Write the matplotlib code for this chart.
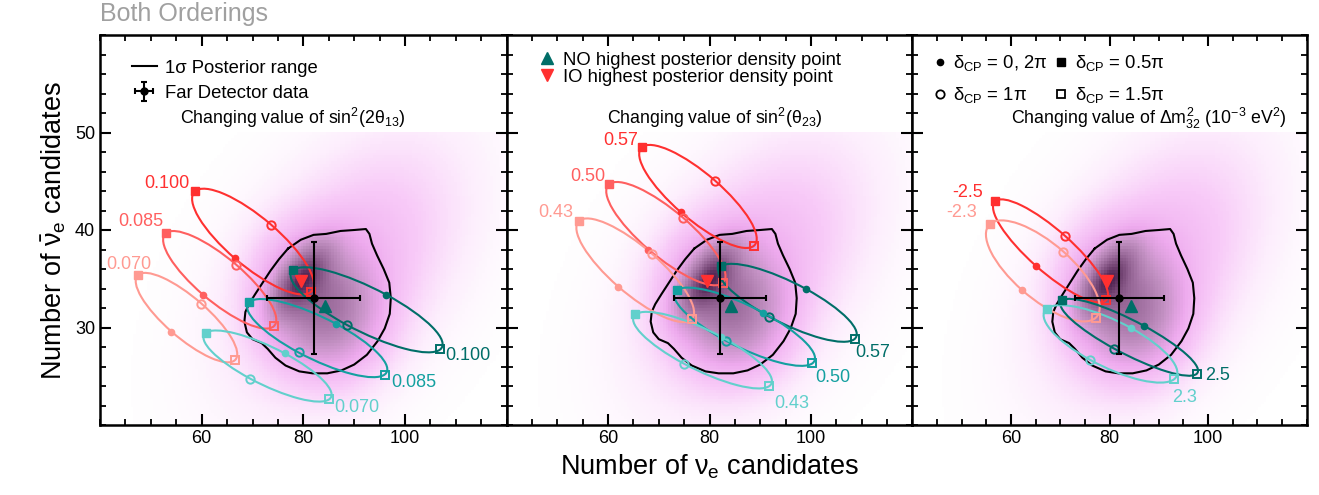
import numpy as np
import matplotlib
matplotlib.use("Agg")
import matplotlib.pyplot as plt
from matplotlib.patches import Circle
from matplotlib.transforms import Affine2D
from matplotlib.colors import LinearSegmentedColormap
from matplotlib.lines import Line2D
from matplotlib.ticker import MultipleLocator

plt.rcParams.update({
    "font.family": ["Liberation Sans", "DejaVu Sans"],
    "mathtext.fontset": "custom",
    "mathtext.rm": "Liberation Sans",
    "mathtext.it": "Liberation Sans",
    "mathtext.bf": "Liberation Sans:bold",
    "mathtext.sf": "Liberation Sans",
})

# ---------------- data ----------------
# Far Detector observation
fd_nue, fd_nuebar = 82, 33
fd_nue_err, fd_nuebar_err = 9.06, 5.74
# highest posterior density points
no_hpd = (84.3, 32.2)
io_hpd = (79.5, 34.8)

# 1 sigma posterior contour (nu_e, nubar_e)
contour_x = [77.0, 79.5, 82.0, 84.5, 87.3, 90.0, 92.3, 93.0, 93.5, 94.5, 95.8, 96.9,
             97.2, 97.0, 96.0, 94.6, 92.5, 90.0, 87.5, 84.7, 81.8, 79.2, 76.5, 74.5,
             73.0, 71.8, 70.0, 68.9, 68.4, 68.6, 69.3, 70.5, 72.0, 73.5, 75.2, 77.0]
contour_y = [38.1, 39.0, 39.5, 39.6, 39.9, 40.0, 40.1, 39.6, 38.6, 37.4, 36.0, 34.6,
             33.0, 31.4, 29.9, 28.6, 27.2, 26.2, 25.6, 25.3, 25.3, 25.5, 26.1, 26.9,
             27.8, 28.4, 28.8, 29.5, 30.6, 31.6, 32.4, 33.4, 34.6, 35.8, 37.0, 38.1]

# background posterior density model: (weight, mean_x, mean_y, sigma_x, sigma_y, rho)
density_components = [
    (0.55, 79.8, 35.0, 3.8, 2.4, 0.65),
    (0.60, 83.5, 32.3, 7.5, 4.4, -0.15),
    (0.30, 89.0, 36.0, 15.0, 9.0, 0.45),
]

# marker positions per curve, order: dCP = 0, 0.5pi, 1pi, 1.5pi
th13_values = ["0.100", "0.085", "0.070", "0.100", "0.085", "0.070"]
th13_x = [[66.6, 58.6, 73.7, 81.5], [60.3, 52.9, 66.8, 74.2], [54.05, 47.5, 59.9, 66.6],
          [96.3, 78.0, 88.55, 106.9], [86.4, 69.4, 79.1, 96.0], [76.3, 60.8, 69.6, 85.1]]
th13_y = [[37.08, 43.95, 40.55, 33.67], [33.34, 39.66, 36.43, 30.14], [29.56, 35.38, 32.45, 26.67],
          [33.34, 35.92, 30.24, 27.76], [30.41, 32.62, 27.45, 25.17], [27.35, 29.46, 24.73, 22.65]]

th23_values = ["0.57", "0.50", "0.43", "0.57", "0.50", "0.43"]
th23_x = [[74.4, 66.6, 81.1, 88.8], [67.9, 60.2, 74.8, 82.7], [61.9, 54.3, 68.7, 76.5],
          [99.0, 82.3, 91.7, 108.6], [90.6, 73.5, 83.3, 100.3], [82.3, 65.4, 75.0, 91.8]]
th23_y = [[41.81, 48.47, 45.07, 38.41], [38.0, 44.69, 41.22, 34.59], [34.18, 40.96, 37.49, 30.86],
          [33.92, 36.3, 31.09, 28.82], [31.53, 33.82, 28.64, 26.33], [29.05, 31.37, 26.27, 24.02]]

dm32_values = ["-2.5", "-2.3", "2.5", "2.3"]
dm32_x = [[65.0, 56.8, 71.0, 79.35], [62.2, 55.8, 70.6, 77.3],
          [86.9, 70.4, 81.0, 97.7], [84.4, 67.3, 76.0, 93.1]]
dm32_y = [[36.33, 42.93, 39.36, 32.8], [33.82, 40.61, 37.76, 31.02],
          [30.14, 32.8, 27.76, 25.28], [29.94, 31.94, 26.7, 24.69]]

# ---------------- styles ----------------
RED_D, RED_M, RED_L = "#ff3030", "#ff5f5f", "#ff9a92"
TEA_D, TEA_M, TEA_L = "#006e68", "#14a0a0", "#62d0cc"
th_colors = [RED_D, RED_M, RED_L, TEA_D, TEA_M, TEA_L]
dm_colors = [RED_D, RED_L, TEA_D, TEA_L]

# label placement: (x, y, ha)
th13_lab = [(57.6, 44.8, "right"), (52.4, 40.9, "right"), (50.1, 36.5, "right"),
            (108.0, 27.1, "left"), (97.2, 24.4, "left"), (86.1, 21.8, "left")]
th23_lab = [(66.0, 49.15, "right"), (59.4, 45.5, "right"), (53.1, 41.8, "right"),
            (108.7, 27.45, "left"), (100.8, 24.9, "left"), (92.7, 22.24, "left")]
dm32_lab = [(54.4, 43.8, "right"), (53.1, 41.76, "right"),
            (99.4, 25.1, "left"), (95.25, 22.8, "center")]

cmap = LinearSegmentedColormap.from_list(
    "post", [(0.0, "#ffffff"), (0.06, "#fdeefd"), (0.16, "#f8caf8"), (0.30, "#eeaaee"),
             (0.48, "#c290c2"), (0.70, "#9a6a9a"), (0.88, "#754675"), (1.0, "#4e2250")])

W, H = 1319, 495
fig = plt.figure(figsize=(W / 100, H / 100), dpi=100)
bot = (H - 425) / H
hgt = 390 / H
ax1 = fig.add_axes([100 / W, bot, 406.7 / W, hgt])
ax2 = fig.add_axes([506.7 / W, bot, 405.6 / W, hgt])
ax3 = fig.add_axes([912.3 / W, bot, 394.4 / W, hgt])
axes = [ax1, ax2, ax3]

# density grid
gx = np.arange(40, 120, 0.55) + 0.275
gy = np.arange(20, 50, 0.3) + 0.15
GX, GY = np.meshgrid(gx, gy)
dens = np.zeros_like(GX)
for w, mx, my, sx, sy, rho in density_components:
    u = (GX - mx) / sx
    v = (GY - my) / sy
    q = (u * u - 2 * rho * u * v + v * v) / (1 - rho * rho)
    dens += w * np.exp(-0.5 * q)
dens /= dens.max()


def draw_curves(ax, xs, ys, colors, values, labs):
    for cx4, cy4, col, val, (lx, ly, ha) in zip(xs, ys, colors, values, labs):
        p = np.column_stack([cx4, cy4])
        c = p.mean(axis=0)
        B = (p[0] - p[2]) / 2
        C = (p[1] - p[3]) / 2
        tr = Affine2D(np.array([[B[0], C[0], c[0]], [B[1], C[1], c[1]], [0, 0, 1]])) + ax.transData
        ax.add_patch(Circle((0, 0), 1, transform=tr, fill=False, ec=col, lw=1.5, zorder=3))
        ax.plot(cx4[0], cy4[0], "o", color=col, ms=4.5, zorder=4)
        ax.plot(cx4[1], cy4[1], "s", color=col, ms=6, zorder=4)
        ax.plot(cx4[2], cy4[2], "o", mfc="none", mec=col, mew=1.4, ms=6, zorder=4)
        ax.plot(cx4[3], cy4[3], "s", mfc="none", mec=col, mew=1.4, ms=6, zorder=4)
        ax.text(lx, ly, val, color=col, ha=ha, va="center", fontsize=13, zorder=5)


for ax in axes:
    ax.imshow(dens, extent=[40, 120, 20, 50], origin="lower", cmap=cmap, vmin=0, vmax=1,
              interpolation="nearest", aspect="auto", zorder=0)
    ax.plot(contour_x, contour_y, color="black", lw=1.5, zorder=2)
    ax.set_xlim(40, 120)
    ax.set_ylim(20, 60)
    ax.set_xticks([60, 80, 100])
    ax.set_yticks([30, 40, 50])
    ax.xaxis.set_minor_locator(MultipleLocator(5))
    ax.yaxis.set_minor_locator(MultipleLocator(2))
    ax.tick_params(which="both", direction="in", top=True, right=True, labelsize=13)
    ax.tick_params(which="major", length=8, width=1.5)
    ax.tick_params(which="minor", length=4.5, width=1.3)
    for s in ax.spines.values():
        s.set_linewidth(1.8)

for ax in (ax2, ax3):
    ax.tick_params(labelleft=False)

draw_curves(ax1, th13_x, th13_y, th_colors, th13_values, th13_lab)
draw_curves(ax2, th23_x, th23_y, th_colors, th23_values, th23_lab)
draw_curves(ax3, dm32_x, dm32_y, dm_colors, dm32_values, dm32_lab)

eb = None
for ax in axes:
    eb = ax.errorbar(fd_nue, fd_nuebar, xerr=fd_nue_err, yerr=fd_nuebar_err, fmt="o", color="black",
                     ms=5, lw=1.5, capsize=2.5, capthick=1.5, zorder=6)
    ax.plot(*no_hpd, "^", color=TEA_D, ms=9, zorder=7)
    ax.plot(*io_hpd, "v", color=RED_D, ms=9, zorder=7)

LEG_FS = 13.3
# legends
ax1.legend([Line2D([], [], color="black", lw=1.5), eb],
           ["1σ Posterior range", "Far Detector data"],
           loc="upper left", bbox_to_anchor=(0.078, 0.937), frameon=False, fontsize=LEG_FS,
           handlelength=1.35, handletextpad=0.45, borderpad=0, borderaxespad=0, labelspacing=0.45)

h_no = Line2D([], [], ls="none", marker="^", color=TEA_D, ms=9)
h_io = Line2D([], [], ls="none", marker="v", color=RED_D, ms=9)
ax2.legend([h_no, h_io], ["NO highest posterior density point", "IO highest posterior density point"],
           loc="upper left", bbox_to_anchor=(0.078, 0.957), frameon=False, fontsize=LEG_FS,
           handlelength=0.95, handletextpad=0.4, borderpad=0, borderaxespad=0, labelspacing=0.0)

hd0 = Line2D([], [], ls="none", marker="o", color="black", ms=4.5)
hd1 = Line2D([], [], ls="none", marker="o", mfc="none", mec="black", mew=1.3, ms=6)
hd05 = Line2D([], [], ls="none", marker="s", color="black", ms=6)
hd15 = Line2D([], [], ls="none", marker="s", mfc="none", mec="black", mew=1.3, ms=6)
ax3.legend([hd0, hd1, hd05, hd15],
           [r"$\delta_{CP}$ = 0, 2π", r"$\delta_{CP}$ = 1π", r"$\delta_{CP}$ = 0.5π", r"$\delta_{CP}$ = 1.5π"],
           ncol=2, loc="upper left", bbox_to_anchor=(0.052, 0.953), frameon=False, fontsize=LEG_FS,
           handlelength=0.75, handletextpad=0.35, borderpad=0, borderaxespad=0, labelspacing=0.65,
           columnspacing=0.35)

ax1.text(0.197, 0.772, r"Changing value of sin$^2$(2θ$_{13}$)", transform=ax1.transAxes,
         fontsize=12.8, ha="left", va="baseline")
ax2.text(0.2466, 0.772, r"Changing value of sin$^2$(θ$_{23}$)", transform=ax2.transAxes,
         fontsize=12.8, ha="left", va="baseline")
ax3.text(0.95, 0.772, r"Changing value of $\Delta m^2_{32}$ (10$^{-3}$ eV$^2$)", transform=ax3.transAxes,
         fontsize=12.8, ha="right", va="baseline")

ax1.set_ylabel(r"Number of $\bar{\nu}_e$ candidates", fontsize=19.5, labelpad=5)
ax2.set_xlabel(r"Number of $\nu_e$ candidates", fontsize=19.5, labelpad=4)
fig.text(100 / W, 1 - 14 / H, "Both Orderings", color="#a0a0a0", fontsize=18, ha="left", va="center")

fig.savefig("out.png", dpi=100)
